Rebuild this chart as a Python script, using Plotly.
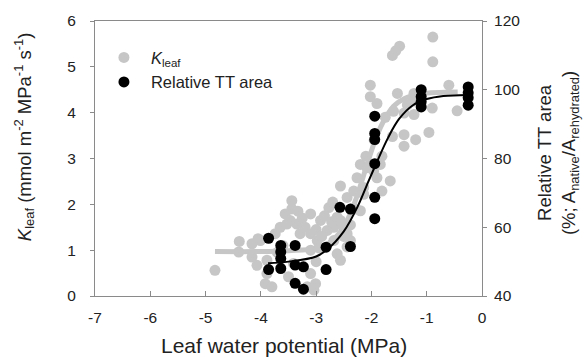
import plotly.graph_objects as go

# Kleaf scatter (MPa, mmol m-2 MPa-1 s-1)
kleaf_x = [-4.83, -4.40, -4.39, -4.16, -4.16, -4.05, -4.01, -4.07, -3.89, -3.89,
           -3.92, -3.80, -3.74, -3.65, -3.56, -3.53, -3.47, -3.44, -3.44, -3.50,
           -3.41, -3.35, -3.29, -3.10, -3.10, -3.10, -3.10, -3.16, -3.01, -3.04,
           -2.98, -2.92, -2.80, -2.77, -2.68, -2.68, -2.62, -2.62, -2.56, -2.56,
           -2.50, -2.44, -2.44, -2.56, -2.44, -2.32, -2.26, -2.20, -2.20, -2.14,
           -2.14, -2.08, -1.96, -1.90, -1.84, -1.81, -1.81, -1.66, -2.02, -2.02,
           -1.90, -1.62, -1.60, -1.53, -1.49, -1.62, -1.56, -1.41, -1.41, -1.41,
           -1.35, -1.23, -1.20, -0.96, -0.90, -0.89, -0.89, -0.60, -0.45, -3.25,
           -3.20, -3.00, -2.90, -2.85, -2.72, -2.50, -2.38, -2.30, -2.38, -2.70,
           -3.33, -3.00, -2.95, -3.60, -3.70, -2.10, -1.95, -1.75, -1.25, -1.23]
kleaf_y = [0.56, 0.96, 1.19, 0.85, 1.14, 1.25, 1.21, 0.67, 0.78, 0.49,
           0.27, 0.20, 1.36, 1.50, 1.79, 1.57, 1.65, 2.08, 1.90, 0.42,
           0.71, 1.57, 1.36, 1.36, 1.79, 1.00, 0.49, 0.20, 0.27, 0.13,
           1.21, 1.65, 1.43, 1.93, 1.50, 1.21, 0.92, 1.72, 1.65, 0.78,
           1.50, 1.36, 1.07, 2.40, 2.15, 2.29, 2.58, 2.87, 1.86, 2.37,
           2.22, 2.80, 2.73, 2.58, 2.87, 3.05, 2.29, 2.51, 4.60, 4.35,
           4.20, 3.48, 4.03, 4.42, 5.45, 5.25, 5.35, 3.27, 3.52, 3.99,
           4.17, 4.42, 3.41, 3.57, 4.10, 5.11, 5.65, 4.60, 4.04, 1.70,
           1.50, 1.45, 1.30, 1.75, 1.62, 1.30, 1.55, 1.90, 1.21, 2.05,
           1.85, 0.75, 1.05, 1.10, 0.95, 3.05, 3.40, 3.90, 4.25, 3.96]

# Kleaf fitted curve
kfit_x = [-4.83, -4.0, -3.5, -3.0, -2.75, -2.5, -2.3, -2.12, -1.95, -1.8, -1.6, -1.4, -1.1, -0.44]
kfit_y = [0.97, 0.97, 0.99, 1.04, 1.17, 1.51, 2.05, 2.71, 3.34, 3.77, 4.14, 4.31, 4.41, 4.45]

# Relative TT area scatter (MPa, %)
tt_x = [-3.86, -3.86, -3.64, -3.64, -3.64, -3.64, -3.38, -3.38, -3.38, -3.23,
        -3.23, -2.82, -2.82, -2.57, -2.38, -2.38, -1.94, -1.94, -1.94, -1.94,
        -1.94, -1.94, -1.10, -1.10, -1.10, -1.10, -0.25, -0.25, -0.25, -0.25]
tt_y = [56.8, 47.7, 54.7, 52.8, 50.9, 48.0, 54.7, 49.0, 43.7, 48.5,
        42.0, 54.2, 47.7, 65.8, 65.3, 54.4, 92.3, 87.3, 85.5, 78.5,
        68.7, 62.5, 100.0, 98.0, 96.5, 95.0, 100.8, 99.1, 97.7, 95.5]

# TT area fitted curve
ttfit_x = [-3.87, -3.5, -3.0, -2.8, -2.5, -2.25, -2.05, -1.9, -1.7, -1.5, -1.25, -1.0, -0.7, -0.26]
ttfit_y = [49.5, 50.0, 51.5, 53.5, 58.8, 66.0, 73.5, 79.0, 86.0, 91.5, 95.5, 97.3, 98.2, 98.5]

# Tick labels
x_ticks = [-7, -6, -5, -4, -3, -2, -1, 0]
x_ticklabels = ["-7", "-6", "-5", "-4", "-3", "-2", "-1", "0"]
y_ticks = [0, 1, 2, 3, 4, 5, 6]
y2_ticks = [40, 60, 80, 100, 120]

GRAY = "#c6c6c6"
FONT = "Liberation Sans, Arial, sans-serif"
TXT = "#222222"
AX = "#8a8a8a"

fig = go.Figure()
fig.add_trace(go.Scatter(x=kfit_x, y=kfit_y, mode="lines", line=dict(color=GRAY, width=5, shape="spline"),
                         showlegend=False, hoverinfo="skip"))
fig.add_trace(go.Scatter(x=kleaf_x, y=kleaf_y, mode="markers", name="<i>K</i><sub>leaf</sub>",
                         marker=dict(color=GRAY, size=11, line=dict(width=0))))
fig.add_trace(go.Scatter(x=tt_x, y=tt_y, mode="markers", name="Relative TT area", yaxis="y2",
                         marker=dict(color="black", size=11, line=dict(width=0))))
fig.add_trace(go.Scatter(x=ttfit_x, y=ttfit_y, mode="lines", yaxis="y2",
                         line=dict(color="black", width=2, shape="spline"),
                         showlegend=False, hoverinfo="skip"))

fig.update_layout(
    width=584, height=358,
    margin=dict(l=95, r=102, t=19, b=62),
    paper_bgcolor="white", plot_bgcolor="white",
    font=dict(family=FONT, color=TXT, size=15),
    xaxis=dict(range=[-7, 0], tickvals=x_ticks, ticktext=x_ticklabels,
               ticks="inside", ticklen=5, tickcolor=AX, showline=True, linecolor=AX,
               mirror=True, showgrid=False, zeroline=False, ticklabelstandoff=7,
               tickfont=dict(size=15.5, color=TXT)),
    yaxis=dict(range=[0, 6], tickvals=y_ticks, ticks="outside", ticklen=4,
               tickcolor=AX, showline=True, linecolor=AX, showgrid=False, zeroline=False,
               ticklabelstandoff=11, tickfont=dict(size=15.5, color=TXT)),
    yaxis2=dict(range=[40, 120], tickvals=y2_ticks, overlaying="y", side="right",
                ticks="outside", ticklen=4, tickcolor=AX, showline=True, linecolor=AX,
                showgrid=False, zeroline=False, ticklabelstandoff=4,
                tickfont=dict(size=15.5, color=TXT)),
    legend=dict(x=0.005, y=0.93, xanchor="left", yanchor="top", bgcolor="rgba(0,0,0,0)",
                font=dict(size=16.5, color=TXT), itemwidth=44, tracegroupgap=0),
    showlegend=True,
)

fig.add_annotation(text="<i>K</i><sub>leaf</sub> (mmol m<sup>-2</sup> MPa<sup>-1</sup> s<sup>-1</sup>)",
                   xref="paper", yref="paper", x=(24 - 95) / 387, y=(296 - 136) / 277,
                   textangle=-90, showarrow=False, font=dict(size=18.5, color=TXT),
                   xanchor="center", yanchor="middle")
fig.add_annotation(text="Relative TT area<br>(%; A<sub>native</sub>/A<sub>rehydrated</sub>)",
                   xref="paper", yref="paper", x=(558 - 95) / 387, y=(296 - 152) / 277,
                   textangle=-90, showarrow=False, font=dict(size=18.5, color=TXT),
                   xanchor="center", yanchor="middle")
fig.add_annotation(text="Leaf water potential (MPa)", xref="paper", yref="paper",
                   x=(284 - 95) / 387, y=-(346 - 296) / 277, showarrow=False,
                   font=dict(size=21, color=TXT), xanchor="center", yanchor="middle")

fig.write_html("out.html", config={"displayModeBar": False},
               post_script="document.body.style.margin='0';document.body.style.padding='0';")
